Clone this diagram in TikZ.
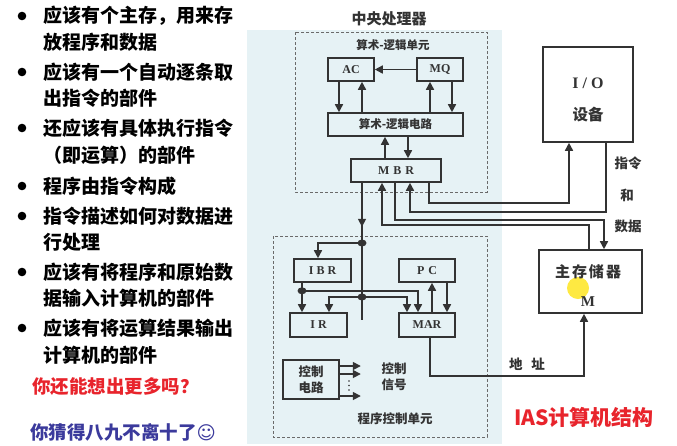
\documentclass[tikz,border=0pt]{standalone}
\usepackage{fontspec}
\setmainfont{Liberation Serif}
\newfontfamily\cjk{Noto Sans CJK SC}
\newfontfamily\symfont{DejaVu Sans}
\usetikzlibrary{arrows.meta}

\definecolor{bgblue}{HTML}{E6F2F5}
\definecolor{ln}{HTML}{333333}
\definecolor{dash}{HTML}{6A6A6A}
\definecolor{redtxt}{HTML}{E8242C}
\definecolor{bluetxt}{HTML}{3B3A9C}

\begin{document}
\begin{tikzpicture}[x=1pt,y=-1pt,
  box/.style={draw=ln, line width=1.6pt, inner sep=0pt, align=center},
  wire/.style={draw=ln, line width=1.6pt},
  arr/.style={draw=ln, line width=1.6pt, -{Triangle[length=8pt,width=8pt]}},
  dbox/.style={draw=dash, line width=0.9pt, dash pattern=on 3pt off 2pt},
  bul/.style={anchor=west, inner sep=0pt, font=\cjk\bfseries\fontsize{19}{19}\selectfont},
  lbl/.style={inner sep=0pt, font=\cjk\bfseries\fontsize{11.5}{13}\selectfont, text=ln},
  latin/.style={font=\bfseries\fontsize{12}{13}\selectfont, text=ln},
]
\useasboundingbox (0,0) rectangle (677,445);
\fill[white] (0,0) rectangle (677,445);
\fill[bgblue] (247,30) rectangle (502,444);

% ---------- left text ----------
\foreach \y in {16,72,128,186,216,272,328} \fill[black] (22,\y) circle (4.3);
\node[bul] (t1)  at (43,16)  {应该有个主存，用来存};
\node[bul] (t2)  at (43,42)  {放程序和数据};
\node[bul] (t3)  at (43,72)  {应该有一个自动逐条取};
\node[bul] (t4)  at (43,98)  {出指令的部件};
\node[bul] (t5)  at (43,128) {还应该有具体执行指令};
\node[bul] (t6)  at (43,155) {（即运算）的部件};
\node[bul] (t7)  at (43,186) {程序由指令构成};
\node[bul] (t8)  at (43,216) {指令描述如何对数据进};
\node[bul] (t9)  at (43,242) {行处理};
\node[bul] (t10) at (43,272) {应该有将程序和原始数};
\node[bul] (t11) at (43,298) {据输入计算机的部件};
\node[bul] (t12) at (43,328) {应该有将运算结果输出};
\node[bul] (t13) at (43,355) {计算机的部件};
\node[bul, text=redtxt, font=\cjk\bfseries\fontsize{18.5}{19}\selectfont] (q1) at (32,387) {你还能想出更多吗？};
\node[bul, text=bluetxt, font=\cjk\bfseries\fontsize{18.5}{19}\selectfont] (q2) at (30,432) {你猜得八九不离十了{\symfont ☺}};

% ---------- dashed groups ----------
\draw[dbox] (295,32) rectangle (487,192);
\draw[dbox] (273,236) rectangle (487,437);
\node[lbl, font=\cjk\bfseries\fontsize{15}{15}\selectfont] (cpu) at (389,19) {中央处理器};
\node[lbl] (alut) at (393,45) {算术-逻辑单元};
\node[lbl, font=\cjk\bfseries\fontsize{12.5}{12}\selectfont] (pcu) at (395,419) {程序控制单元};

% ---------- boxes ----------
\node[box, latin, minimum width=46pt, minimum height=23pt] (AC) at (351,69.5) {AC};
\node[box, latin, minimum width=46pt, minimum height=23pt] (MQ) at (440,69.5) {MQ};
\node[box, lbl, minimum width=135pt, minimum height=23pt] (ALU) at (395.5,124.5) {算术-逻辑电路};
\node[box, latin, minimum width=90pt, minimum height=23pt] (MBR) at (396,170.5) {M\hspace{4pt}B\hspace{4pt}R};
\node[box, latin, minimum width=57pt, minimum height=23pt] (IBR) at (322.5,270.5) {I\hspace{3pt}B\hspace{3pt}R};
\node[box, latin, minimum width=56pt, minimum height=23pt] (PC) at (427,270.5) {P\hspace{4pt}C};
\node[box, latin, minimum width=57pt, minimum height=24pt] (IR) at (318.5,325) {I\hspace{3pt}R};
\node[box, latin, minimum width=56pt, minimum height=24pt] (MAR) at (427,325) {MAR};
\node[box, lbl, font=\cjk\bfseries\fontsize{12.5}{16}\selectfont, minimum width=56pt, minimum height=39pt] (CTRL) at (311,379.5) {控制\\电路};
\node[lbl, font=\cjk\bfseries\fontsize{12.5}{16}\selectfont, align=center] (sig) at (394,377) {控制\\信号};

\node[box, minimum width=90pt, minimum height=95pt] (IO) at (588,94.5) {};
\node[latin, font=\bfseries\fontsize{16}{16}\selectfont] (iot) at (588,83) {I\hspace{4pt}/\hspace{4pt}O};
\node[lbl, font=\cjk\bfseries\fontsize{15.5}{16}\selectfont] (iod) at (588,115) {设备};

\node[box, minimum width=103pt, minimum height=63pt] (MEM) at (590.5,281.5) {};
\fill[yellow!85!orange, opacity=0.75] (578,288) circle (11);
\node[lbl, font=\cjk\bfseries\fontsize{15}{15}\selectfont] (memt) at (588,272) {主\hspace{2pt}存\hspace{2pt}储\hspace{2pt}器};
\node[latin, font=\bfseries\fontsize{15}{15}\selectfont] (memm) at (588,302) {M};

\node[lbl, font=\cjk\bfseries\fontsize{13.5}{13}\selectfont] (l1) at (628,163) {指令};
\node[lbl, font=\cjk\bfseries\fontsize{13.5}{13}\selectfont] (l2) at (627,195) {和};
\node[lbl, font=\cjk\bfseries\fontsize{13.5}{13}\selectfont] (l3) at (628,226) {数据};
\node[lbl, font=\cjk\bfseries\fontsize{13.5}{13}\selectfont] (l4) at (527,364) {地\hspace{9pt}址};
\node[inner sep=0pt, text=redtxt, font=\cjk\bfseries\fontsize{21}{21}\selectfont] (ias) at (584,417) {IAS计算机结构};

% ---------- ALU unit connectors ----------
\draw[arr] (MQ.west) -- (AC.east);
\coordinate (a1) at ([xshift=-12pt]AC.south);
\coordinate (a2) at ([xshift=11pt]AC.south);
\draw[arr] (a1) -- (a1 |- ALU.north);
\draw[arr] (a2 |- ALU.north) -- (a2);
\coordinate (m1) at ([xshift=-10pt]MQ.south);
\coordinate (m2) at ([xshift=12pt]MQ.south);
\draw[arr] (m1 |- ALU.north) -- (m1);
\draw[arr] (m2) -- (m2 |- ALU.north);
\coordinate (b1) at ([xshift=-11pt]MBR.north);
\coordinate (b2) at ([xshift=12pt]MBR.north);
\draw[arr] (b1) -- (b1 |- ALU.south);
\draw[arr] (b2 |- ALU.south) -- (b2);

% ---------- MBR bus to I/O and memory ----------
\coordinate (s0) at ([xshift=-34pt]MBR.south);
\coordinate (s1) at ([xshift=-14pt]MBR.south);
\coordinate (s2) at ([xshift=-1pt]MBR.south);
\coordinate (s3) at ([xshift=14pt]MBR.south);
\coordinate (s4) at ([xshift=33pt]MBR.south);
\coordinate (i1) at ([xshift=-19pt]IO.south);
\coordinate (i2) at ([xshift=18pt]IO.south);
\coordinate (u1) at ([xshift=-1.5pt]MEM.north);
\coordinate (u2) at ([xshift=13.5pt]MEM.north);
\coordinate (u3) at ([xshift=-6.5pt]MEM.south);

\draw[arr] (s4) -- ++(0,20) -| (i1);
\draw[arr] (i2) -- ++(0,69) -| (s3);
\draw[arr] (s2) -- ++(0,37) -| (u2);
\draw[arr] (u1) -- ++(0,-24) -| (s1);

% ---------- program control unit ----------
\coordinate (J1) at (362,243);
\coordinate (J2) at (362,297);
\coordinate (Jend) at (362,320);
\coordinate (J3) at ([xshift=-20.5pt,yshift=-8pt]IBR.south);
\draw[wire] (s0) -- (Jend);
\draw[arr] (s0) -- ++(0,44);
\coordinate (ibr1) at ([xshift=-4.5pt]IBR.north);
\draw[arr] (J1) -| (ibr1);
\draw[wire] ([xshift=-20.5pt]IBR.south) -- (J3);
\draw[arr] (J3) -- (J3 |- IR.north);
\coordinate (mar1) at ([xshift=-9pt]MAR.north);
\coordinate (mar2) at ([xshift=-20pt]MAR.north);
\coordinate (ir2) at ([xshift=10.5pt]IR.north);
\draw[arr] (J3) -| (mar1);
\draw[arr] (J2) -| (ir2);
\draw[arr] (J2) -| (mar2);
\coordinate (p1) at ([xshift=5pt]MAR.north);
\coordinate (p2) at ([xshift=20pt]PC.south);
\draw[arr] (p1) -- (p1 |- PC.south);
\draw[arr] (p2) -- (p2 |- MAR.north);
\coordinate (q1m) at ([xshift=3pt]MAR.south);
\draw[arr] (q1m) -- ++(0,38) -| (u3);
\foreach \j in {J1,J2,J3} \fill[ln] (\j) ellipse (4.5 and 3.5);

% control signals
\coordinate (c1) at ([yshift=13.5pt]CTRL.east);
\coordinate (c2) at ([yshift=5.5pt]CTRL.east);
\coordinate (c3) at ([yshift=-16.5pt]CTRL.east);
\foreach \c in {c1,c2,c3} \draw[arr] (\c) -- ++(21,0);
\foreach \y in {381,385.5,390} \fill[ln] (349,\y) circle (0.9);
\end{tikzpicture}
\end{document}
